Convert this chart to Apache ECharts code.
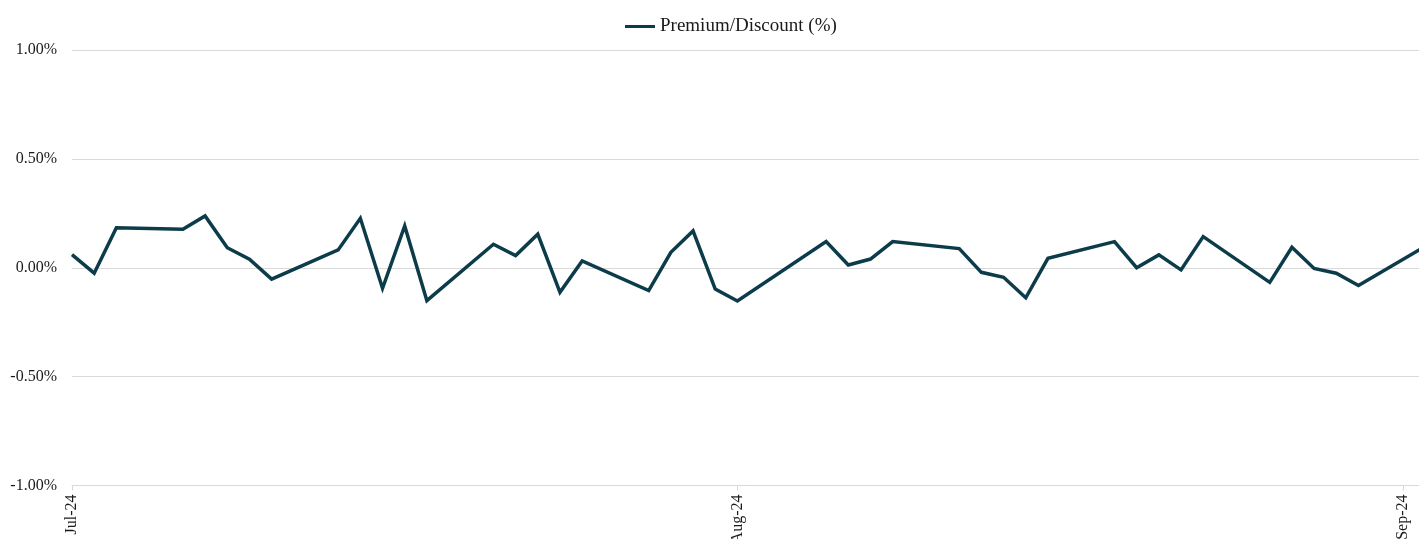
<!DOCTYPE html>
<html>
<head>
<meta charset="utf-8">
<script src="https://cdn.jsdelivr.net/npm/echarts@6/dist/echarts.min.js"></script>
<style>
  html, body { margin: 0; padding: 0; background: #ffffff; }
  #chart { width: 1419px; height: 539px; }
</style>
</head>
<body>
<div id="chart"></div>
<script>
const seriesName = 'Premium/Discount (%)';
const dates = ['2024-07-03','2024-07-04','2024-07-05','2024-07-08','2024-07-09','2024-07-10','2024-07-11','2024-07-12',
  '2024-07-15','2024-07-16','2024-07-17','2024-07-18','2024-07-19','2024-07-22','2024-07-23','2024-07-24','2024-07-25','2024-07-26',
  '2024-07-29','2024-07-30','2024-07-31','2024-08-01','2024-08-02','2024-08-06','2024-08-07','2024-08-08','2024-08-09',
  '2024-08-12','2024-08-13','2024-08-14','2024-08-15','2024-08-16','2024-08-19','2024-08-20','2024-08-21','2024-08-22','2024-08-23',
  '2024-08-26','2024-08-27','2024-08-28','2024-08-29','2024-08-30','2024-09-02'];
const values = [0.060,-0.025,0.184,0.177,0.238,0.092,0.039,-0.052,
  0.082,0.227,-0.094,0.192,-0.151,0.108,0.056,0.154,-0.113,0.031,
  -0.105,0.071,0.169,-0.098,-0.153,0.120,0.013,0.040,0.120,
  0.088,-0.021,-0.044,-0.138,0.043,0.120,0.000,0.059,-0.010,0.143,
  -0.067,0.094,-0.003,-0.025,-0.082,0.098];
const xTickLabels = ['Jul-24','Aug-24','Sep-24'];
const yTickValues = [-1, -0.5, 0, 0.5, 1];

const DAY = 86400000;
const t0 = Date.parse(dates[0] + 'T00:00:00Z');
const dayOffset = d => Math.round((Date.parse(d + 'T00:00:00Z') - t0) / DAY);
const points = dates.map((d, i) => [dayOffset(d), values[i]]);
const lastDay = dayOffset(dates[dates.length - 1]);

const chart = echarts.init(document.getElementById('chart'), null, { renderer: 'canvas' });
chart.setOption({
  animation: false,
  backgroundColor: '#ffffff',
  textStyle: { fontFamily: 'Liberation Serif' },
  legend: {
    data: [seriesName],
    top: 12,
    left: 620,
    icon: 'rect',
    itemWidth: 30,
    itemHeight: 3,
    textStyle: { fontFamily: 'Liberation Serif', fontSize: 19, color: '#1a1a1a' }
  },
  grid: { left: 72, right: -6, top: 50, bottom: 53.5, containLabel: false, outerBoundsMode: 'none' },
  xAxis: {
    type: 'value',
    min: 0,
    max: lastDay,
    interval: 30,
    splitLine: { show: false },
    axisLine: { show: true, onZero: false, lineStyle: { color: '#d9d9d9', width: 1 } },
    axisTick: { show: true, length: 5, lineStyle: { color: '#d9d9d9' } },
    axisLabel: {
      rotate: 90,
      margin: 9,
      fontFamily: 'Liberation Serif',
      fontSize: 16,
      color: '#1a1a1a',
      showMaxLabel: false,
      formatter: v => (v % 30 === 0 && xTickLabels[v / 30] !== undefined) ? xTickLabels[v / 30] : ''
    }
  },
  yAxis: {
    type: 'value',
    min: yTickValues[0],
    max: yTickValues[yTickValues.length - 1],
    interval: 0.5,
    axisLine: { show: false },
    axisTick: { show: false },
    splitLine: { show: true, lineStyle: { color: '#d9d9d9', width: 1 } },
    axisLabel: {
      margin: 15,
      padding: [4, 0, 0, 0],
      fontFamily: 'Liberation Serif',
      fontSize: 16,
      color: '#1a1a1a',
      formatter: v => v.toFixed(2) + '%'
    }
  },
  series: [{
    name: seriesName,
    type: 'line',
    data: points,
    showSymbol: false,
    symbol: 'none',
    clip: true,
    lineStyle: { color: '#0c3c4a', width: 3.5, join: 'miter' },
    itemStyle: { color: '#0c3c4a' }
  }]
});
</script>
</body>
</html>
